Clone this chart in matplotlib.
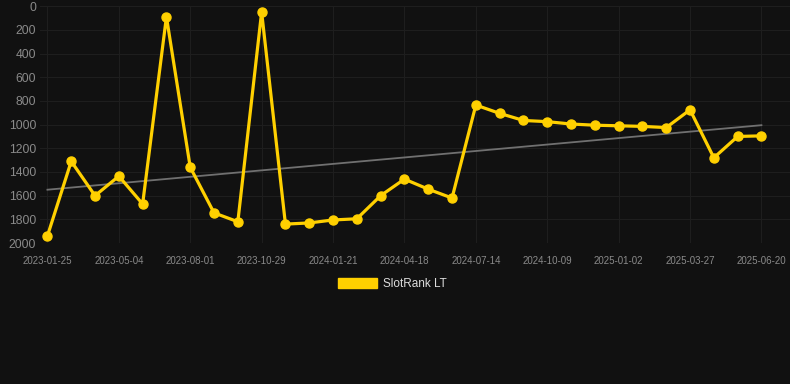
import matplotlib.pyplot as plt
import matplotlib.patches as mpatches
import numpy as np

# SlotRank values, one point per period (lower = better, axis inverted)
ranks = [1940, 1310, 1600, 1435, 1670, 90, 1360, 1745, 1820, 50,
         1840, 1830, 1805, 1795, 1600, 1460, 1545, 1620, 835, 905,
         965, 975, 995, 1005, 1010, 1015, 1025, 875, 1280, 1100, 1095]
tick_labels = ['2023-01-25', '2023-05-04', '2023-08-01', '2023-10-29', '2024-01-21',
               '2024-04-18', '2024-07-14', '2024-10-09', '2025-01-02', '2025-03-27',
               '2025-06-20']
y_ticks = [0, 200, 400, 600, 800, 1000, 1200, 1400, 1600, 1800, 2000]

bg = '#111111'
plt.rcParams['font.family'] = ['Liberation Sans', 'DejaVu Sans']

fig = plt.figure(figsize=(7.9, 3.84), dpi=100, facecolor=bg)
ax = fig.add_axes([0.051, 0.367, 0.949, 0.617], facecolor=bg)

x = np.arange(len(ranks))

# linear trend line
k, b = np.polyfit(x, ranks, 1)
ax.plot(x, k * x + b, color='#707070', linewidth=1.3, zorder=2)

ax.plot(x, ranks, color='#FFD000', linewidth=2.3, marker='o', markersize=6.5,
        zorder=3, clip_on=False)

ax.set_ylim(2000, 0)
ax.set_xlim(-0.3, 31.2)
ax.set_yticks(y_ticks)
ax.set_xticks(x[::3])
ax.set_xticklabels(tick_labels)

ax.grid(True, color='#1f1f1f', linewidth=0.7)
ax.set_axisbelow(True)
for s in ax.spines.values():
    s.set_visible(False)
ax.tick_params(axis='y', length=0, colors='#8a8a8a', labelsize=8.7, pad=3)
ax.tick_params(axis='x', length=0, colors='#8a8a8a', labelsize=7, pad=9)

handle = mpatches.Patch(color='#FFD000', label='SlotRank LT')
fig.legend(handles=[handle], loc='center', bbox_to_anchor=(0.497, 0.26), frameon=False,
           fontsize=8.5, labelcolor='#dddddd', handlelength=3.3, handleheight=0.9,
           handletextpad=0.5)

plt.savefig('out.png', dpi=100, facecolor=bg)
